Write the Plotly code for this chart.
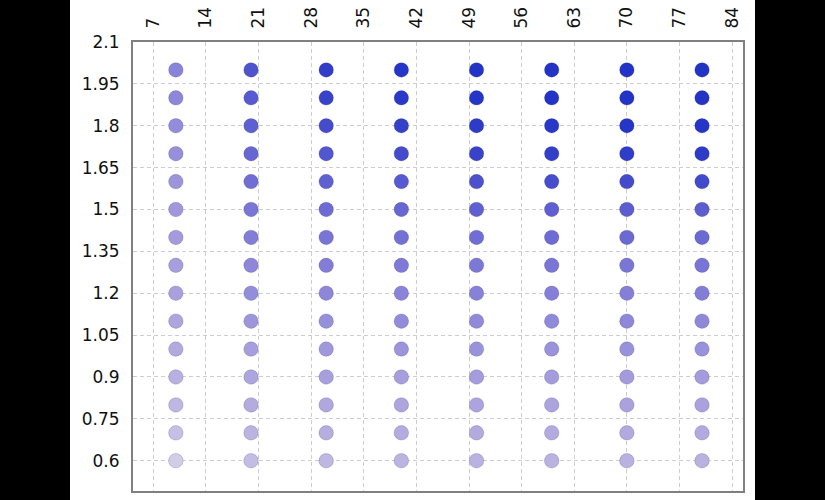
import plotly.graph_objects as go

# Data
x_values = [10, 20, 30, 40, 50, 60, 70, 80]
y_values = [0.6, 0.7, 0.8, 0.9, 1.0, 1.1, 1.2, 1.3, 1.4, 1.5, 1.6, 1.7, 1.8, 1.9, 2.0]
# colour intensity per point (rows follow y_values, columns follow x_values)
intensity = [
    [0.08, 0.18, 0.22, 0.24, 0.25, 0.25, 0.26, 0.26],  # 0.6
    [0.16, 0.24, 0.28, 0.30, 0.31, 0.31, 0.32, 0.32],  # 0.7
    [0.22, 0.30, 0.34, 0.36, 0.37, 0.37, 0.38, 0.38],  # 0.8
    [0.27, 0.36, 0.40, 0.42, 0.43, 0.43, 0.44, 0.44],  # 0.9
    [0.32, 0.42, 0.46, 0.48, 0.49, 0.49, 0.50, 0.50],  # 1.0
    [0.36, 0.47, 0.51, 0.53, 0.54, 0.54, 0.55, 0.55],  # 1.1
    [0.39, 0.52, 0.56, 0.58, 0.59, 0.60, 0.60, 0.61],  # 1.2
    [0.42, 0.56, 0.61, 0.63, 0.64, 0.65, 0.65, 0.66],  # 1.3
    [0.44, 0.61, 0.66, 0.68, 0.70, 0.71, 0.72, 0.72],  # 1.4
    [0.46, 0.65, 0.71, 0.74, 0.77, 0.78, 0.79, 0.79],  # 1.5
    [0.48, 0.70, 0.77, 0.81, 0.85, 0.87, 0.88, 0.89],  # 1.6
    [0.51, 0.74, 0.83, 0.88, 0.92, 0.94, 0.95, 0.96],  # 1.7
    [0.53, 0.78, 0.88, 0.93, 0.96, 0.98, 0.99, 0.99],  # 1.8
    [0.56, 0.81, 0.92, 0.97, 0.99, 1.00, 1.00, 1.00],  # 1.9
    [0.58, 0.84, 0.95, 0.99, 1.00, 1.00, 1.00, 1.00],  # 2.0
]
x_ticks = [7, 14, 21, 28, 35, 42, 49, 56, 63, 70, 77, 84]
y_ticks = [0.6, 0.75, 0.9, 1.05, 1.2, 1.35, 1.5, 1.65, 1.8, 1.95, 2.1]

xs, ys, cs = [], [], []
for i, yv in enumerate(y_values):
    for j, xv in enumerate(x_values):
        xs.append(xv)
        ys.append(yv)
        cs.append(intensity[i][j])

colorscale = [
    [0.0, "#DCD8EC"],
    [0.25, "#BAB2E0"],
    [0.45, "#A29ADC"],
    [0.6, "#857FD8"],
    [0.8, "#5A5CD0"],
    [1.0, "#2233C6"],
]

fig = go.Figure()
fig.add_trace(go.Scatter(
    x=xs, y=ys, mode="markers",
    marker=dict(size=14.5, color=cs, colorscale=colorscale, cmin=0, cmax=1,
                line=dict(width=1, color="rgba(20,20,90,0.18)")),
    hoverinfo="skip", showlegend=False,
))

L, R, T, B = 133, 82, 42, 9
W, H = 825, 500
pw, ph = W - L - R, H - T - B
fig.add_shape(type="rect", xref="paper", yref="paper",
              x0=(70 - L) / pw, x1=(755 - L) / pw,
              y0=-(B + 5) / ph, y1=1 + (T + 5) / ph,
              fillcolor="white", line=dict(width=0), layer="below")

tick_font = dict(family="DejaVu Sans", size=17, color="#111111")
fig.update_xaxes(
    range=[4.3, 85.45], side="top", tickmode="array", tickvals=x_ticks,
    ticktext=[str(v) for v in x_ticks], tickangle=-90, tickfont=tick_font,
    showgrid=True, gridcolor="#CDCDCD", griddash="4px,3px", gridwidth=1,
    showline=True, mirror=True, linecolor="#808080", linewidth=2,
    zeroline=False, ticks="", ticklabelstandoff=8,
)
fig.update_yaxes(
    range=[0.4915, 2.1], tickmode="array", tickvals=y_ticks,
    ticktext=[f"{v:g}" for v in y_ticks], tickfont=tick_font,
    showgrid=True, gridcolor="#CDCDCD", griddash="4px,3px", gridwidth=1,
    showline=True, mirror=True, linecolor="#808080", linewidth=2,
    zeroline=False, ticks="", ticklabelstandoff=8,
)
fig.update_layout(
    width=W, height=H, margin=dict(l=L, r=R, t=T, b=B, autoexpand=False),
    paper_bgcolor="black", plot_bgcolor="white",
)
fig.write_html("out.html")
